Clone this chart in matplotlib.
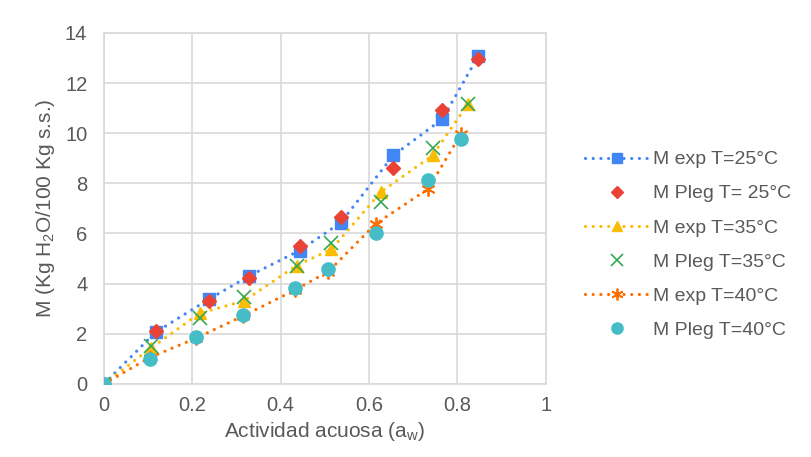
import matplotlib
matplotlib.use("Agg")
import matplotlib.pyplot as plt

# sorption isotherms: experimental moisture vs Peleg fit at three temperatures
aw_25 = [0, 0.117, 0.238, 0.329, 0.443, 0.536, 0.655, 0.766, 0.847]
m_exp_25 = [0, 2.06, 3.38, 4.31, 5.32, 6.43, 9.11, 10.56, 13.06]
m_peleg_25 = [0, 2.10, 3.31, 4.22, 5.48, 6.67, 8.60, 10.93, 12.95]

aw_35 = [0, 0.106, 0.217, 0.317, 0.436, 0.515, 0.628, 0.744, 0.824]
m_exp_35 = [0, 1.42, 2.82, 3.31, 4.72, 5.37, 7.67, 9.11, 11.17]
m_peleg_35 = [0, 1.52, 2.62, 3.48, 4.72, 5.61, 7.27, 9.40, 11.17]

aw_40 = [0, 0.104, 0.208, 0.314, 0.433, 0.508, 0.615, 0.734, 0.808]
m_exp_40 = [0, 1.05, 1.82, 2.70, 3.75, 4.48, 6.38, 7.78, 9.96]
m_peleg_40 = [0, 1.00, 1.86, 2.75, 3.82, 4.59, 6.01, 8.14, 9.77]

plt.rcParams["font.family"] = ["Liberation Sans", "DejaVu Sans"]
plt.rcParams["mathtext.fontset"] = "custom"
plt.rcParams["mathtext.rm"] = "Liberation Sans"
plt.rcParams["mathtext.it"] = "Liberation Sans"

txt = "#595959"
grid = "#d9d9d9"

fig = plt.figure(figsize=(8.12, 4.57), dpi=100)
ax = fig.add_axes([0.128, 0.160, 0.544, 0.768])

# round dots, like a spreadsheet "round dot" line
dot = dict(linestyle=(0, (0.01, 2.4)), linewidth=2.3,
           dash_capstyle="round")

ax.plot(aw_25, m_exp_25, color="#4285F4", marker="s", markersize=8.5,
        label="M exp T=25°C", zorder=3, **dot)
ax.plot(aw_25, m_peleg_25, color="#EA4335", marker="D", markersize=7.5,
        linestyle="none", label="M Pleg T= 25°C", zorder=4)
ax.plot(aw_35, m_exp_35, color="#FBBC04", marker="^", markersize=9,
        label="M exp T=35°C", zorder=3, **dot)
ax.plot(aw_35, m_peleg_35, color="#34A853", marker="x", markersize=10,
        markeredgewidth=1.2, linestyle="none", label="M Pleg T=35°C", zorder=4)
ax.plot(aw_40, m_exp_40, color="#FF6D01", marker=(6, 2, 0), markersize=10,
        markeredgewidth=1.3, label="M exp T=40°C", zorder=3, **dot)
ax.plot(aw_40, m_peleg_40, color="#46BDC6", marker="o", markersize=9.5,
        linestyle="none", label="M Pleg T=40°C", zorder=4)

ax.set_xlim(0, 1)
ax.set_ylim(0, 14)
ax.set_xticks([0, 0.2, 0.4, 0.6, 0.8, 1])
ax.set_xticklabels(["0", "0.2", "0.4", "0.6", "0.8", "1"])
ax.set_yticks(range(0, 15, 2))
ax.grid(True, color=grid, linewidth=1.2)
ax.set_axisbelow(True)
for s in ax.spines.values():
    s.set_color(grid)
    s.set_linewidth(1.2)
ax.tick_params(length=0, labelsize=14.5, labelcolor=txt)
ax.tick_params(axis="y", pad=12)
ax.tick_params(axis="x", pad=9)

ax.set_xlabel(r"Actividad acuosa (a$_\mathrm{w}$)", fontsize=15, color=txt,
              labelpad=3)
ax.set_ylabel(r"M (Kg H$_\mathrm{2}$O/100 Kg s.s.)", fontsize=15, color=txt,
              labelpad=6)

leg = ax.legend(loc="center left", bbox_to_anchor=(1.088, 0.396),
                frameon=False, fontsize=14, labelcolor=txt,
                handlelength=3.3, labelspacing=0.85, handletextpad=0.2,
                borderaxespad=0, borderpad=0, markerscale=0.85)

fig.savefig("out.png", dpi=100)
